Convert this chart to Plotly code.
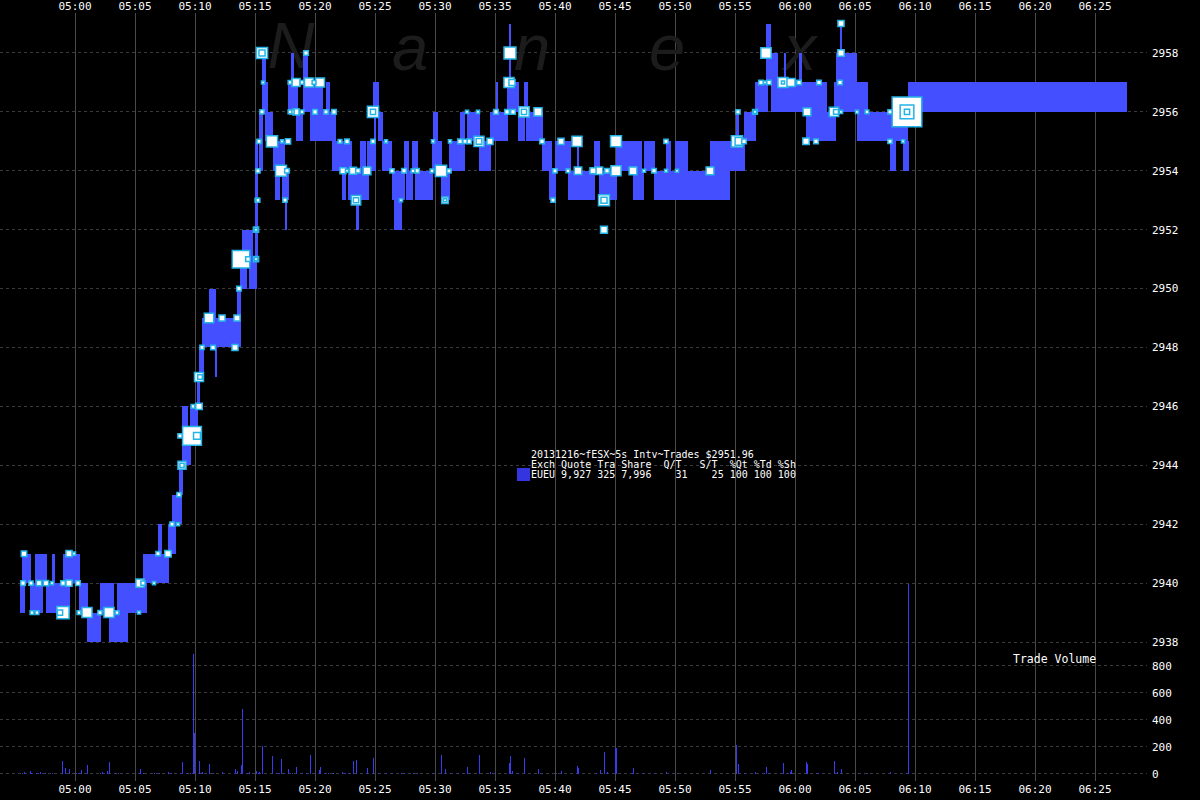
import numpy as np
import pandas as pd
import plotly.graph_objects as go

DAY = "2013-12-16 "

# ---------------- price ranges of 5s intervals ----------------
bar_start = [
    "04:55:25", "04:55:35", "04:56:15", "04:56:40", "04:57:35", "04:58:05", "04:59:00", "05:00:20", "05:01:00", "05:02:05",
    "05:02:50", "05:03:30", "05:05:40", "05:06:55", "05:07:45", "05:08:05", "05:08:40", "05:08:55", "05:09:20", "05:09:35",
    "05:10:10", "05:10:20", "05:10:35", "05:11:10", "05:11:40", "05:13:30", "05:13:45", "05:13:55", "05:14:30", "05:15:00",
    "05:15:20", "05:15:35", "05:15:40", "05:15:50", "05:16:30", "05:16:40", "05:17:00", "05:17:15", "05:17:30", "05:17:45",
    "05:18:00", "05:18:25", "05:19:00", "05:19:25", "05:19:35", "05:20:00", "05:20:55", "05:21:00", "05:21:25", "05:22:15",
    "05:22:45", "05:23:25", "05:23:45", "05:24:20", "05:24:50", "05:24:55", "05:25:15", "05:25:35", "05:26:25", "05:26:35",
    "05:27:25", "05:27:35", "05:28:05", "05:28:20", "05:29:45", "05:29:50", "05:30:30", "05:31:10", "05:32:05", "05:32:40",
    "05:33:40", "05:34:35", "05:35:05", "05:36:00", "05:36:10", "05:36:55", "05:37:25", "05:37:35", "05:38:55", "05:39:30",
    "05:40:00", "05:41:05", "05:41:50", "05:43:15", "05:43:40", "05:45:05", "05:46:30", "05:47:25", "05:48:15", "05:49:15",
    "05:50:00", "05:50:10", "05:52:55", "05:55:05", "05:55:45", "05:56:40", "05:57:35", "05:58:00", "05:58:00", "05:59:05",
    "06:00:20", "06:00:55", "06:03:15", "06:03:25", "06:03:15", "06:03:45", "06:05:10", "06:07:55", "06:09:00", "06:09:25",
]
bar_end = [
    "04:55:50", "04:56:20", "04:57:20", "04:57:40", "04:59:35", "04:58:20", "05:00:25", "05:01:05", "05:02:10", "05:03:15",
    "05:04:25", "05:06:00", "05:07:50", "05:07:15", "05:08:25", "05:08:55", "05:09:00", "05:09:25", "05:09:40", "05:10:15",
    "05:10:25", "05:10:45", "05:13:35", "05:11:45", "05:11:50", "05:13:50", "05:14:20", "05:14:50", "05:15:10", "05:15:15",
    "05:15:40", "05:15:55", "05:16:05", "05:16:30", "05:17:00", "05:17:05", "05:17:30", "05:17:50", "05:17:40", "05:18:35",
    "05:18:15", "05:19:00", "05:19:25", "05:20:00", "05:21:00", "05:20:40", "05:21:15", "05:21:45", "05:23:05", "05:22:35",
    "05:24:30", "05:23:40", "05:24:15", "05:24:55", "05:25:20", "05:25:05", "05:25:40", "05:26:25", "05:27:30", "05:27:15",
    "05:27:50", "05:28:10", "05:28:35", "05:29:50", "05:30:35", "05:30:15", "05:31:15", "05:32:10", "05:32:30", "05:33:45",
    "05:34:40", "05:36:05", "05:35:15", "05:37:00", "05:36:20", "05:37:30", "05:37:45", "05:39:00", "05:39:45", "05:40:05",
    "05:41:20", "05:43:20", "05:42:00", "05:43:45", "05:45:10", "05:47:15", "05:47:25", "05:48:20", "05:54:35", "05:49:40",
    "05:50:10", "05:51:05", "05:55:50", "05:55:20", "05:56:45", "05:57:45", "05:58:00", "06:02:40", "05:58:35", "05:59:15",
    "06:00:35", "06:03:20", "06:03:25", "06:05:10", "06:06:05", "06:03:55", "06:09:25", "06:08:25", "06:09:30", "06:27:40",
]
bar_low = [
    2939, 2940, 2939, 2940, 2939, 2940, 2940, 2939, 2938, 2939,
    2938, 2939, 2940, 2941, 2941, 2942, 2943, 2944, 2944, 2945,
    2946, 2947, 2948, 2949, 2947, 2948, 2950, 2951, 2950, 2951,
    2954, 2956, 2956, 2955, 2954, 2953, 2954, 2953, 2952, 2956,
    2957, 2955, 2956, 2956, 2955, 2956, 2956, 2955, 2954, 2953,
    2953, 2952, 2954, 2954, 2956, 2954, 2955, 2954, 2953, 2952,
    2954, 2953, 2954, 2953, 2954, 2955, 2953, 2954, 2954, 2955,
    2954, 2955, 2956, 2956, 2957, 2955, 2956, 2955, 2954, 2953,
    2954, 2953, 2954, 2954, 2953, 2954, 2953, 2954, 2953, 2954,
    2954, 2954, 2954, 2955, 2955, 2956, 2957, 2956, 2957, 2957,
    2957, 2955, 2955, 2957, 2956, 2958, 2955, 2954, 2954, 2956,
]
bar_high = [
    2940, 2941, 2940, 2941, 2940, 2941, 2941, 2940, 2939, 2940,
    2939, 2940, 2941, 2942, 2942, 2943, 2944, 2946, 2945, 2946,
    2947, 2948, 2949, 2950, 2948, 2950, 2951, 2952, 2951, 2955,
    2956, 2958, 2957, 2956, 2955, 2954, 2955, 2954, 2953, 2957,
    2958, 2956, 2958, 2957, 2956, 2957, 2957, 2956, 2955, 2954,
    2954, 2953, 2955, 2955, 2957, 2956, 2956, 2955, 2954, 2953,
    2955, 2954, 2955, 2954, 2955, 2956, 2954, 2955, 2956, 2956,
    2955, 2956, 2957, 2957, 2959, 2956, 2957, 2956, 2955, 2954,
    2955, 2954, 2955, 2955, 2954, 2955, 2954, 2955, 2954, 2955,
    2955, 2955, 2955, 2956, 2956, 2957, 2959, 2957, 2958, 2958,
    2958, 2956, 2957, 2958, 2957, 2959, 2956, 2955, 2955, 2957,
]

# ---------------- individual trades ----------------
trade_time = [
    "04:55:45", "04:55:40", "04:56:20", "04:57:00", "04:57:35", "04:58:05", "04:56:25", "04:56:50", "04:59:00", "04:59:30",
    "05:00:15", "04:59:30", "04:59:55", "04:59:00", "04:58:45", "05:01:00", "05:00:20", "05:02:50", "05:02:05", "05:03:30",
    "05:05:20", "05:05:25", "05:05:40", "05:06:35", "05:06:55", "05:07:45", "05:08:05", "05:08:35", "05:08:40", "05:08:55",
    "05:08:55", "05:09:45", "05:10:10", "05:08:45", "05:10:20", "05:09:50", "05:10:20", "05:10:25", "05:10:35", "05:11:30",
    "05:13:20", "05:11:10", "05:12:15", "05:13:30", "05:13:40", "05:13:50", "05:14:25", "05:15:05", "05:15:05", "05:15:05",
    "05:15:05", "05:15:10", "05:17:30", "05:15:35", "05:15:35", "05:15:40", "05:15:35", "05:15:20", "05:16:25", "05:17:15",
    "05:17:45", "05:15:15", "05:17:10", "05:17:40", "05:15:15", "05:19:15", "05:17:55", "05:18:25", "05:18:55", "05:19:30",
    "05:19:55", "05:20:25", "05:17:55", "05:18:25", "05:18:55", "05:20:00", "05:20:55", "05:21:35", "05:18:05", "05:22:05",
    "05:22:40", "05:24:50", "05:24:50", "05:24:50", "05:25:55", "05:22:20", "05:22:40", "05:23:10", "05:23:35", "05:24:20",
    "05:23:25", "05:23:25", "05:26:25", "05:27:25", "05:28:10", "05:28:30", "05:29:45", "05:30:30", "05:31:10", "05:27:10",
    "05:29:50", "05:31:15", "05:32:05", "05:32:30", "05:32:50", "05:33:40", "05:33:40", "05:34:35", "05:30:50", "05:30:50",
    "05:32:40", "05:33:35", "05:35:05", "05:36:00", "05:36:30", "05:37:25", "05:37:25", "05:38:35", "05:36:15", "05:36:10",
    "05:36:25", "05:38:55", "05:40:00", "05:39:50", "05:40:30", "05:41:50", "05:45:05", "05:49:15", "05:55:10", "05:55:20",
    "05:55:45", "05:41:05", "05:41:55", "05:43:10", "05:43:40", "05:44:20", "05:45:05", "05:46:30", "05:47:25", "05:48:15",
    "05:49:15", "05:50:10", "05:52:55", "05:44:05", "05:44:05", "05:44:05", "05:55:15", "05:56:40", "05:56:40", "05:57:35",
    "05:57:10", "05:57:50", "05:57:30", "05:59:00", "05:59:00", "05:59:40", "06:00:20", "06:02:00", "06:03:45", "06:03:50",
    "06:03:50", "06:01:00", "06:03:15", "06:03:25", "06:03:50", "06:05:10", "06:06:00", "06:07:55", "06:00:55", "06:01:45",
    "06:07:55", "06:09:00", "06:09:20", "06:09:20", "06:09:20",
]
trade_price = [
    2941, 2940, 2940, 2940, 2940, 2940, 2939, 2939, 2940, 2940,
    2940, 2941, 2941, 2939, 2939, 2939, 2939, 2939, 2939, 2939,
    2939, 2940, 2940, 2940, 2941, 2941, 2942, 2942, 2943, 2944,
    2944, 2945, 2945, 2945, 2946, 2946, 2947, 2947, 2948, 2948,
    2948, 2949, 2949, 2949, 2950, 2951, 2951, 2951, 2951, 2952,
    2952, 2953, 2953, 2958, 2958, 2957, 2956, 2955, 2955, 2955,
    2955, 2954, 2954, 2954, 2953, 2958, 2957, 2957, 2957, 2957,
    2957, 2957, 2956, 2956, 2956, 2956, 2956, 2956, 2956, 2955,
    2955, 2956, 2956, 2955, 2955, 2954, 2954, 2954, 2954, 2954,
    2953, 2953, 2954, 2954, 2954, 2954, 2954, 2954, 2954, 2953,
    2955, 2955, 2955, 2955, 2955, 2955, 2955, 2955, 2953, 2953,
    2956, 2956, 2956, 2956, 2956, 2956, 2956, 2956, 2958, 2957,
    2957, 2955, 2954, 2953, 2955, 2955, 2955, 2955, 2955, 2955,
    2955, 2954, 2954, 2954, 2954, 2954, 2954, 2954, 2954, 2954,
    2954, 2954, 2954, 2953, 2953, 2952, 2956, 2956, 2956, 2958,
    2957, 2957, 2957, 2957, 2957, 2957, 2957, 2957, 2957, 2959,
    2958, 2956, 2956, 2956, 2956, 2956, 2956, 2956, 2955, 2955,
    2955, 2955, 2956, 2956, 2956,
]
trade_qty = [
    7, 4, 3, 6, 6, 1, 2, 2, 4, 10,
    4, 10, 1, 90, 6, 50, 2, 50, 3, 2,
    1, 25, 3, 1, 3, 12, 3, 1, 3, 25,
    3, 350, 15, 3, 12, 2, 35, 4, 3, 4,
    10, 40, 10, 10, 4, 280, 4, 6, 1, 6,
    1, 2, 3, 70, 10, 1, 3, 3, 70, 1,
    6, 3, 65, 4, 2, 4, 2, 25, 2, 35,
    2, 35, 2, 10, 2, 4, 3, 4, 3, 2,
    4, 70, 6, 3, 1, 10, 1, 15, 4, 22,
    40, 6, 3, 4, 2, 4, 2, 70, 3, 1,
    1, 1, 4, 3, 4, 50, 8, 10, 12, 1,
    1, 1, 4, 4, 4, 55, 6, 25, 85, 50,
    10, 4, 3, 3, 10, 50, 65, 3, 70, 22,
    4, 2, 20, 10, 20, 4, 50, 22, 1, 4,
    1, 1, 22, 65, 10, 15, 3, 5, 1, 55,
    4, 4, 1, 50, 1, 25, 4, 4, 4, 10,
    12, 22, 40, 5, 1, 1, 2, 3, 12, 4,
    3, 1, 1400, 130, 6,
]

# ---------------- trade volume per 5s interval ----------------
vol_time = [
    "04:55:45", "04:56:15", "04:57:05", "04:58:55", "04:59:10", "04:59:30", "05:00:30", "05:01:00", "05:02:15", "05:02:40",
    "05:02:50", "05:05:25", "05:07:45", "05:08:55", "05:09:50", "05:09:55", "05:10:20", "05:10:35", "05:11:10", "05:12:15",
    "05:13:20", "05:13:30", "05:13:50", "05:13:55", "05:14:30", "05:15:05", "05:15:35", "05:16:25", "05:17:10", "05:17:45",
    "05:18:25", "05:19:35", "05:20:20", "05:20:25", "05:22:15", "05:23:10", "05:23:25", "05:24:20", "05:24:50", "05:30:30",
    "05:30:50", "05:32:40", "05:33:40", "05:34:35", "05:36:10", "05:36:15", "05:36:25", "05:37:25", "05:38:35", "05:40:30",
    "05:41:50", "05:41:55", "05:43:45", "05:44:05", "05:44:20", "05:45:00", "05:45:05", "05:46:30", "05:49:15", "05:52:55",
    "05:55:05", "05:55:15", "05:56:40", "05:57:35", "05:59:00", "05:59:35", "05:59:40", "06:00:55", "06:01:00", "06:03:15",
    "06:03:30", "06:03:50", "06:07:55", "06:09:25",
    "04:55:35", "04:56:20", "04:56:45", "04:56:55", "04:57:30", "04:58:05", "05:00:05", "05:00:20", "05:02:05", "05:03:20",
    "05:03:35", "05:05:20", "05:05:40", "05:06:35", "05:07:00", "05:08:00", "05:08:45", "05:09:20", "05:09:35", "05:10:30",
    "05:11:30", "05:14:20", "05:15:15", "05:15:20", "05:16:45", "05:17:00", "05:17:25", "05:18:05", "05:18:55", "05:19:15",
    "05:20:50", "05:21:05", "05:21:30", "05:22:30", "05:22:50", "05:25:15", "05:25:55", "05:26:25", "05:27:10", "05:27:25",
    "05:28:10", "05:28:30", "05:29:50", "05:31:15", "05:31:55", "05:32:50", "05:35:00", "05:36:55", "05:38:55", "05:40:05",
    "05:43:25", "05:46:25", "05:47:20", "05:48:15", "05:50:10", "05:55:45", "05:57:25", "05:57:50", "05:59:20", "06:01:45",
    "06:01:55", "06:05:15", "06:06:00", "06:09:15",
]
vol_qty = [
    15, 25, 10, 99, 47, 40, 32, 69, 15, 20,
    91, 40, 15, 91, 890, 306, 99, 12, 76, 10,
    40, 20, 69, 483, 10, 25, 210, 136, 113, 40,
    54, 143, 32, 54, 17, 99, 106, 47, 121, 143,
    40, 54, 143, 17, 84, 136, 25, 121, 40, 25,
    62, 47, 32, 165, 17, 195, 195, 47, 10, 32,
    217, 76, 17, 54, 84, 15, 32, 89, 74, 96,
    15, 37, 10, 1406,
    3, 4, 2, 3, 2, 3, 2, 3, 4, 2,
    3, 2, 4, 2, 3, 2, 3, 2, 4, 3,
    4, 3, 6, 8, 3, 2, 4, 3, 2, 3,
    2, 3, 2, 3, 2, 3, 2, 3, 2, 3,
    2, 3, 2, 3, 2, 3, 2, 3, 2, 3,
    2, 3, 2, 3, 2, 3, 2, 3, 2, 3,
    2, 2, 3, 2,
]

x_tick_times = ["05:00", "05:05", "05:10", "05:15", "05:20", "05:25", "05:30", "05:35", "05:40",
                "05:45", "05:50", "05:55", "06:00", "06:05", "06:10", "06:15", "06:20", "06:25"]
price_ticks = [2938, 2940, 2942, 2944, 2946, 2948, 2950, 2952, 2954, 2956, 2958]
volume_ticks = [0, 200, 400, 600, 800]

legend_lines = [
    "20131216~fESX~5s Intv~Trades $2951.96",
    "Exch Quote Tra Share  Q/T   S/T  %Qt %Td %Sh",
    "EUEU 9,927 325 7,996    31    25 100 100 100",
]
watermark_letters = ["N", "a", "n", "e", "x"]

# ---------------- styles ----------------
BG = "#000000"
BAR_BLUE = "#4450ff"
VOL_BLUE = "#3a3af0"
CYAN = "#25b4e6"
MONO = "DejaVu Sans Mono"


def ts(s):
    return pd.to_datetime(DAY + s)


starts = pd.to_datetime([DAY + s for s in bar_start])
ends = pd.to_datetime([DAY + s for s in bar_end])
widths = ((ends - starts).total_seconds() * 1000).tolist()
heights = (np.array(bar_high) - np.array(bar_low)).tolist()

order = np.argsort(-np.array(trade_qty), kind="stable")
t_x = pd.to_datetime([DAY + trade_time[i] for i in order])
t_y = [trade_price[i] for i in order]
t_q = np.array([trade_qty[i] for i in order], dtype=float)
t_size = 0.5 + 2.6 * np.cbrt(t_q)

v_x = pd.to_datetime([DAY + s for s in vol_time])

x_range = [ts("04:53:45"), ts("06:29:20")]
tickvals = [ts(t + ":00") for t in x_tick_times]

# plot area spans y = 13 .. 781 px; price 2958 at 53 px, 29.45 px per point;
# volume 0 at 774 px, 0.135 px per unit
fig = go.Figure()

# watermark (drawn in the base subplot, below data)
fig.add_trace(go.Scatter(
    x=[0.2537, 0.3575, 0.4638, 0.5815, 0.6975], y=[0.949, 0.947, 0.947, 0.947, 0.947],
    text=watermark_letters, mode="text",
    textfont=dict(family="Liberation Sans", size=65, color="#1c1c1c", style="italic"),
    hoverinfo="skip", showlegend=False, xaxis="x", yaxis="y"))

fig.add_trace(go.Bar(
    x=starts, y=heights, base=bar_low, width=widths, offset=0,
    marker=dict(color=BAR_BLUE, line=dict(width=0)),
    hoverinfo="skip", showlegend=False, xaxis="x2", yaxis="y2"))

fig.add_trace(go.Scatter(
    x=t_x, y=t_y, mode="markers",
    marker=dict(symbol="square", size=t_size, color="white",
                line=dict(color=CYAN, width=1.5), opacity=1),
    hoverinfo="skip", showlegend=False, xaxis="x2", yaxis="y2"))

# volume bars use the top time axis (same range as the bottom one)
fig.add_trace(go.Bar(
    x=v_x, y=vol_qty, width=5000, offset=0,
    marker=dict(color=VOL_BLUE, line=dict(width=0)),
    hoverinfo="skip", showlegend=False, xaxis="x3", yaxis="y3"))

axis_font = dict(family=MONO, size=11, color="white")
xcommon = dict(type="date", range=x_range, tickmode="array", tickvals=tickvals, ticktext=x_tick_times,
               tickfont=axis_font, zeroline=False, showline=False, ticks="", automargin=False,
               overlaying="x", anchor="y")

fig.update_layout(
    width=1200, height=800,
    margin=dict(l=0, r=53, t=13, b=19),
    paper_bgcolor=BG, plot_bgcolor=BG,
    barmode="overlay", bargap=0,
    showlegend=False,
    xaxis=dict(range=[0, 1], visible=False, fixedrange=True),
    yaxis=dict(range=[0, 1], visible=False, fixedrange=True),
    xaxis2=dict(**xcommon, side="bottom", showgrid=True, gridcolor="#4a4a4a", gridwidth=1),
    xaxis3=dict(**xcommon, side="top", showgrid=False),
    yaxis2=dict(overlaying="y", anchor="x", side="right", range=[2933.28, 2959.358],
                tickmode="array", tickvals=price_ticks, tickfont=axis_font, ticks="",
                ticklabelstandoff=4,
                showgrid=True, gridcolor="#3a3a3a", gridwidth=1, griddash="3px,3px",
                zeroline=False, showline=False, automargin=False),
    yaxis3=dict(overlaying="y", anchor="x", side="right", range=[-51.9, 5637],
                tickmode="array", tickvals=volume_ticks, tickfont=axis_font, ticks="",
                ticklabelstandoff=4,
                showgrid=True, gridcolor="#3a3a3a", gridwidth=1, griddash="3px,3px",
                zeroline=False, showline=False, automargin=False),
)

NB = "\u00a0"
# paper y for a pixel row py: (781 - py) / 768
legend_y = [(781 - 455) / 768, (781 - 464.5) / 768, (781 - 474) / 768]
for line, yy in zip(legend_lines, legend_y):
    fig.add_annotation(text=line.replace(" ", NB), xref="paper", yref="paper",
                       x=0.4618, y=yy, xanchor="left", yanchor="middle", showarrow=False,
                       font=dict(family=MONO, size=10, color="white"), borderpad=0)

fig.add_shape(type="rect", xref="paper", yref="paper", x0=0.4507, x1=0.4621,
              y0=(781 - 481) / 768, y1=(781 - 468) / 768,
              fillcolor="#3535e0", line=dict(width=0))

fig.add_annotation(text="Trade" + NB + "Volume", xref="paper", yref="paper", x=0.8820, y=(781 - 659) / 768,
                   xanchor="left", yanchor="middle", showarrow=False,
                   font=dict(family=MONO, size=11.5, color="white"), borderpad=0)

fig.write_html(
    "out.html",
    config={"displayModeBar": False},
    post_script="document.body.style.margin='0';document.body.style.background='#000';",
)
